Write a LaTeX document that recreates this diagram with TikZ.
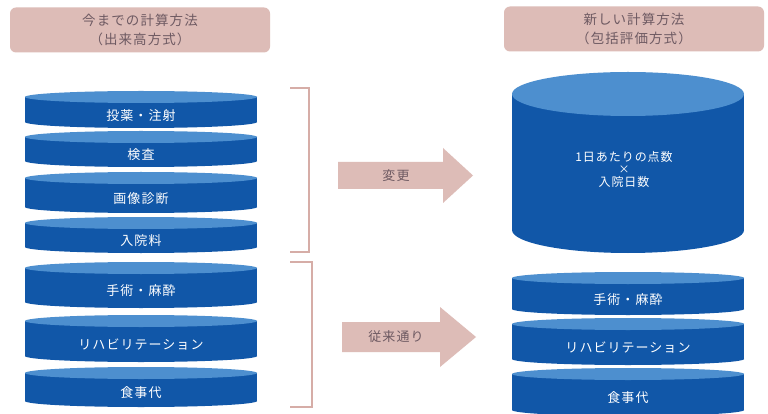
\documentclass[tikz,border=0pt]{standalone}
\usepackage{fontspec}
\setmainfont{Noto Sans CJK JP}
\newfontfamily\spaced[LetterSpace=8]{Noto Sans CJK JP}
\definecolor{pinkbox}{HTML}{DDBCB7}
\definecolor{pinkline}{HTML}{D6ADA7}
\definecolor{titletext}{HTML}{6E5A62}
\definecolor{cylsidec}{HTML}{1157A8}
\definecolor{cyltopc}{HTML}{4D8FCF}
\tikzset{
  titlebox/.style={fill=pinkbox, rounded corners=6pt, minimum width=260pt, minimum height=45pt, text=titletext, font=\spaced\fontsize{13.5pt}{19pt}\selectfont, align=center},
  cylside/.style={fill=cylsidec},
  cyltop/.style={fill=cyltopc},
  cyllabel/.style={text=white, font=\spaced\fontsize{13pt}{15pt}\selectfont, align=center},
  bracketline/.style={draw=pinkline, line width=2pt},
  arrowshape/.style={fill=pinkbox},
  arrowlabel/.style={text=titletext, font=\spaced\fontsize{13pt}{15pt}\selectfont},
}
\newcommand\mycyl[7]{%
  \fill[cylside] (#2,#4+#6) rectangle (#3,#5-#6);
  \fill[cylside] ({(#2+#3)/2},#5-#6) ellipse [x radius={(#3-#2)/2}, y radius=#6];
  \fill[cyltop] ({(#2+#3)/2},#4+#6) ellipse [x radius={(#3-#2)/2}, y radius=#6];
  \node[cyllabel] (#1) at ({(#2+#3)/2},{(#4+2*#6+#5)/2}) {#7};
}
\begin{document}
\begin{tikzpicture}[x=1pt,y=-1pt]
\clip (0,0) rectangle (768,414);
\fill[white] (0,0) rectangle (768,414);
% titles
\node[titlebox] (t1) at (140,30) {今までの計算方法\\（出来高方式）};
\node[titlebox] (t2) at (634,29) {新しい計算方法\\（包括評価方式）};
% left cylinders
\mycyl{l1}{25}{257}{91}{128}{6}{投薬・注射}
\mycyl{l2}{25}{257}{131}{167}{6}{検査}
\mycyl{l3}{25}{257}{172}{213}{6}{画像診断}
\mycyl{l4}{25}{257}{217}{253}{6}{入院料}
\mycyl{l5}{25}{257}{262}{308}{6}{手術・麻酔}
\mycyl{l6}{25}{257}{315}{362}{6}{リハビリテーション}
\mycyl{l7}{25}{257}{367}{407}{6}{食事代}
% brackets
\coordinate (b1a) at (290,88);
\coordinate (b1b) at (309,88);
\coordinate (b1c) at (309,252);
\coordinate (b1d) at (290,252);
\draw[bracketline] (b1a) -- (b1b) -- (b1c) -- (b1d);
\coordinate (b2a) at (290,262);
\coordinate (b2b) at (312,262);
\coordinate (b2c) at (312,407);
\coordinate (b2d) at (290,407);
\draw[bracketline] (b2a) -- (b2b) -- (b2c) -- (b2d);
% arrows
\fill[arrowshape] (338,162) -- (443,162) -- (443,148) -- (473,175.5) -- (443,203) -- (443,189) -- (338,189) -- cycle;
\node[arrowlabel] (a1) at (396,175.5) {変更};
\fill[arrowshape] (342,322) -- (440,322) -- (440,307) -- (476,337) -- (440,367) -- (440,352) -- (342,352) -- cycle;
\node[arrowlabel] (a2) at (396,337) {従来通り};
% big cylinder
\fill[cylside] (512,94) rectangle (744,230);
\fill[cylside] (628,230) ellipse [x radius=116, y radius=23];
\fill[cyltop] (628,94) ellipse [x radius=116, y radius=22];
\node[cyllabel, font=\spaced\fontsize{12pt}{12.5pt}\selectfont] (big) at (624,169) {1日あたりの点数\\{\fontsize{11pt}{12.5pt}\selectfont ×}\\入院日数};
% right cylinders
\mycyl{r1}{512}{744}{272}{315}{6}{手術・麻酔}
\mycyl{r2}{512}{744}{318}{365}{6}{リハビリテーション}
\mycyl{r3}{512}{744}{368}{416}{6}{食事代}
\end{tikzpicture}
\end{document}
